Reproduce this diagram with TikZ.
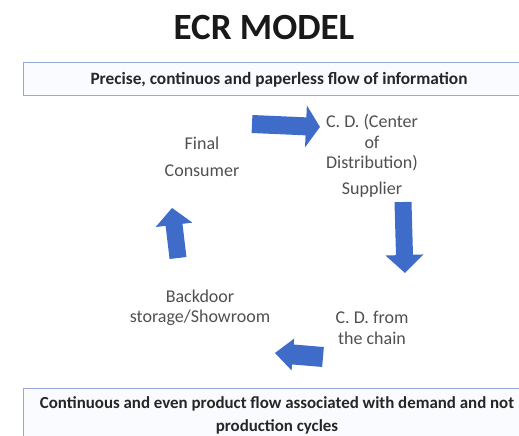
\documentclass[tikz,border=0pt]{standalone}
\usepackage{fontspec}
\setmainfont{Carlito}
\definecolor{arrowblue}{RGB}{62,108,200}
\definecolor{boxline}{RGB}{150,168,215}
\definecolor{boxfill}{RGB}{250,251,255}
\definecolor{txtgray}{RGB}{80,80,80}
\newcommand\ecrarrow[6]{%
  \fill[arrowblue,shift={(#1)},rotate=#2]
    (0,-#4/2) -- (#3-#6,-#4/2) -- (#3-#6,-#5/2) -- (#3,0) --
    (#3-#6,#5/2) -- (#3-#6,#4/2) -- (0,#4/2) -- cycle;}
\begin{document}
\begin{tikzpicture}[x=1pt,y=1pt,
  lbl/.style={font=\fontsize{18}{20.5}\selectfont,text=txtgray,align=center,inner sep=0pt},
  boxtxt/.style={font=\bfseries\fontsize{17.3}{23}\selectfont,text=black!85,align=center,inner sep=0pt},
  infobox/.style={draw=boxline,fill=boxfill,line width=1pt}]
\useasboundingbox (0,0) rectangle (519,-436);
\clip (0,0) rectangle (519,-436);
\fill[white] (0,0) rectangle (519,-436);
\node[font=\bfseries\fontsize{37}{42}\selectfont,text=black!90,inner sep=0pt] (title) at (264,-27) {ECR MODEL};
\draw[infobox] (23,-63) rectangle (536,-95);
\node[boxtxt] (info) at (279,-80) {Precise, continuos and paperless flow of information};
\draw[infobox] (23,-388) rectangle (536,-450);
\node[boxtxt,font=\bfseries\fontsize{16.9}{23}\selectfont] (prod) at (277,-415.5) {Continuous and even product flow associated with demand and not\\production cycles};
\node[lbl] (final) at (202,-143) {Final};
\node[lbl] (consumer) at (202,-171) {Consumer};
\node[lbl] (cd) at (372,-143) {C. D. (Center\\of\\Distribution)};
\node[lbl] (supplier) at (372,-190) {Supplier};
\node[lbl] (backdoor) at (200,-308) {Backdoor\\storage/Showroom};
\node[lbl] (chain) at (372,-328) {C. D. from\\the chain};
\ecrarrow{252,-124}{-2.5}{68}{18}{42}{14}
\ecrarrow{403,-202}{-88.4}{71}{17}{38}{18}
\ecrarrow{178,-258}{96.8}{50.4}{17}{37}{17}
\ecrarrow{323,-357}{175.2}{48.2}{20}{32}{18}
\end{tikzpicture}
\end{document}
